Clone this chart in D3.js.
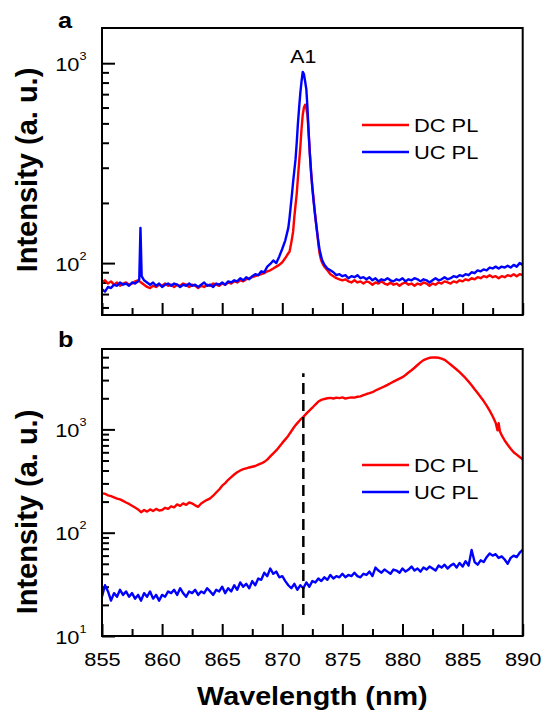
<!DOCTYPE html>
<html>
<head>
<meta charset="utf-8">
<script src="https://cdn.jsdelivr.net/npm/d3@7"></script>
<style>
    body { margin: 0; background: #fff; }
    svg { display: block; font-family: Arial, "Liberation Sans", sans-serif; }
    .frame { fill: none; stroke: #000; stroke-width: 2; }
    .axis line { stroke: #000; stroke-width: 2; }
    .axis text { fill: #000; font-size: 19px; }
    .trace { fill: none; stroke-width: 2.4; stroke-linejoin: round; }
    .title { font-weight: bold; }
</style>
</head>
<body>
<div class="mainview"></div>
<script>

// data ////////////////////////////////////

const wlTicks = [855, 860, 865, 870, 875, 880, 885, 890];
const wlMinorTicks = [857.5, 862.5, 867.5, 872.5, 877.5, 882.5, 887.5];

const topYTicks = [100, 1000];
const topYMinor = [60, 70, 80, 90, 200, 300, 400, 500, 600, 700, 800, 900];
const bottomYTicks = [10, 100, 1000];
const bottomYMinor = [20, 30, 40, 50, 60, 70, 80, 90, 200, 300, 400, 500, 600, 700, 800, 900, 2000, 3000, 4000, 5000];

const legendNames = ["DC PL", "UC PL"];

// panel a, down-conversion PL  [wavelength nm, intensity]
const topDC = [
    [855, 80], [855.25, 82], [855.5, 79], [855.75, 81], [856, 78], [856.25, 80], [856.5, 77], [856.75, 79],
    [857, 80], [857.25, 78], [857.5, 79], [857.75, 81], [858, 82], [858.25, 80], [858.5, 78], [858.75, 76],
    [859, 75], [859.25, 77], [859.5, 76], [859.75, 78], [860, 77], [860.25, 79], [860.5, 77], [860.75, 78],
    [861, 76], [861.25, 78], [861.5, 77], [861.75, 79], [862, 78], [862.25, 76], [862.5, 78], [862.75, 77],
    [863, 75], [863.25, 77], [863.5, 76], [863.75, 78], [864, 77], [864.25, 79], [864.5, 78], [864.75, 77],
    [865, 79], [865.25, 78], [865.5, 80], [865.75, 79], [866, 81], [866.25, 80], [866.5, 82], [866.75, 81],
    [867, 83], [867.25, 84], [867.5, 85], [867.75, 86], [868, 87], [868.25, 88], [868.5, 89], [868.75, 91],
    [869, 92], [869.25, 94], [869.5, 96], [869.75, 98], [870, 101], [870.25, 106], [870.5, 112], [870.6, 114],
    [870.7, 122], [870.8, 132], [870.9, 144], [871, 170], [871.1, 195], [871.2, 222], [871.3, 268], [871.4, 320],
    [871.5, 380], [871.6, 470], [871.7, 552], [871.8, 600], [871.9, 620], [872, 595], [872.1, 545], [872.2, 440],
    [872.3, 350], [872.4, 285], [872.5, 240], [872.6, 210], [872.7, 182], [872.8, 160], [872.9, 143], [873, 125],
    [873.1, 112], [873.2, 105], [873.3, 101], [873.4, 98], [873.5, 96], [873.75, 92], [874, 88], [874.25, 86],
    [874.5, 84], [874.75, 83], [875, 82], [875.25, 83], [875.5, 81], [875.75, 80], [876, 82], [876.25, 80],
    [876.5, 81], [876.75, 79], [877, 81], [877.25, 80], [877.5, 78], [877.75, 80], [878, 79], [878.25, 81],
    [878.5, 79], [878.75, 78], [879, 80], [879.25, 78], [879.5, 79], [879.75, 77], [880, 79], [880.25, 80],
    [880.5, 78], [880.75, 79], [881, 77], [881.25, 79], [881.5, 78], [881.75, 80], [882, 79], [882.25, 77],
    [882.5, 79], [882.75, 78], [883, 80], [883.25, 79], [883.5, 81], [883.75, 80], [884, 79], [884.25, 81],
    [884.5, 80], [884.75, 82], [885, 81], [885.25, 83], [885.5, 82], [885.75, 84], [886, 83], [886.25, 85],
    [886.5, 84], [886.75, 86], [887, 85], [887.25, 87], [887.5, 85], [887.75, 86], [888, 84], [888.25, 86],
    [888.5, 85], [888.75, 87], [889, 86], [889.25, 88], [889.5, 86], [889.75, 88], [890, 87]
];

// panel a, up-conversion PL
const topUC = [
    [855, 74], [855.25, 72], [855.5, 76], [855.75, 75], [856, 78], [856.25, 77], [856.5, 80], [856.75, 78],
    [857, 79], [857.25, 77], [857.5, 80], [857.75, 79], [858, 81], [858.1, 83], [858.2, 150], [858.3, 86],
    [858.5, 82], [858.75, 80], [859, 78], [859.25, 80], [859.5, 77], [859.75, 79], [860, 76], [860.25, 78],
    [860.5, 79], [860.75, 77], [861, 79], [861.25, 78], [861.5, 76], [861.75, 78], [862, 77], [862.25, 79],
    [862.5, 77], [862.75, 78], [863, 76], [863.25, 78], [863.5, 80], [863.75, 77], [864, 78], [864.25, 76],
    [864.5, 79], [864.75, 78], [865, 80], [865.25, 78], [865.5, 81], [865.75, 80], [866, 82], [866.25, 81],
    [866.5, 84], [866.75, 82], [867, 85], [867.25, 83], [867.5, 86], [867.75, 88], [868, 87], [868.25, 91],
    [868.5, 90], [868.75, 96], [869, 99], [869.25, 103], [869.5, 100], [869.75, 108], [870, 118], [870.25, 130],
    [870.5, 150], [870.6, 168], [870.7, 192], [870.8, 220], [870.9, 255], [871, 290], [871.1, 330], [871.2, 400],
    [871.3, 500], [871.4, 600], [871.5, 710], [871.6, 810], [871.7, 905], [871.8, 880], [871.9, 810], [872, 740],
    [872.1, 590], [872.2, 440], [872.3, 345], [872.4, 280], [872.5, 238], [872.6, 205], [872.7, 180], [872.8, 160],
    [872.9, 142], [873, 128], [873.1, 117], [873.2, 110], [873.3, 104], [873.4, 101], [873.5, 98], [873.75, 94],
    [874, 92], [874.25, 90], [874.5, 87], [874.75, 88], [875, 86], [875.25, 87], [875.5, 84], [875.75, 86],
    [876, 85], [876.25, 87], [876.5, 84], [876.75, 85], [877, 83], [877.25, 85], [877.5, 82], [877.75, 84],
    [878, 81], [878.25, 83], [878.5, 82], [878.75, 84], [879, 82], [879.25, 81], [879.5, 83], [879.75, 82],
    [880, 84], [880.25, 81], [880.5, 83], [880.75, 82], [881, 84], [881.25, 83], [881.5, 81], [881.75, 83],
    [882, 82], [882.25, 80], [882.5, 82], [882.75, 84], [883, 82], [883.25, 83], [883.5, 85], [883.75, 83],
    [884, 84], [884.25, 86], [884.5, 85], [884.75, 87], [885, 86], [885.25, 88], [885.5, 87], [885.75, 90],
    [886, 89], [886.25, 92], [886.5, 91], [886.75, 93], [887, 92], [887.25, 95], [887.5, 94], [887.75, 96],
    [888, 94], [888.25, 96], [888.5, 95], [888.75, 97], [889, 95], [889.25, 98], [889.5, 96], [889.75, 100],
    [890, 98]
];

// panel b, down-conversion PL
const bottomDC = [
    [855, 240], [855.25, 238], [855.5, 230], [855.75, 226], [856, 220], [856.25, 214], [856.5, 210], [856.75, 203],
    [857, 196], [857.25, 190], [857.5, 182], [857.75, 175], [858, 168], [858.25, 158], [858.5, 166], [858.75, 160],
    [859, 168], [859.25, 162], [859.5, 170], [859.75, 164], [860, 166], [860.25, 174], [860.5, 170], [860.75, 180],
    [861, 176], [861.25, 188], [861.5, 182], [861.75, 192], [862, 186], [862.25, 196], [862.5, 192], [862.75, 184],
    [863, 178], [863.25, 192], [863.5, 200], [863.75, 208], [864, 215], [864.25, 228], [864.5, 245], [864.75, 262],
    [865, 285], [865.25, 302], [865.5, 325], [865.75, 345], [866, 366], [866.25, 385], [866.5, 400], [866.75, 412],
    [867, 420], [867.25, 428], [867.5, 435], [867.75, 442], [868, 455], [868.25, 468], [868.5, 485], [868.75, 510],
    [869, 548], [869.25, 585], [869.5, 625], [869.75, 680], [870, 740], [870.25, 800], [870.5, 870], [870.75, 960],
    [871, 1060], [871.25, 1150], [871.5, 1240], [871.75, 1320], [872, 1420], [872.25, 1520], [872.5, 1620], [872.75, 1740],
    [873, 1860], [873.25, 1930], [873.5, 1970], [873.75, 2000], [874, 2020], [874.25, 1990], [874.5, 2030], [874.75, 2010],
    [875, 2040], [875.25, 1990], [875.5, 2020], [875.75, 2040], [876, 2030], [876.25, 2070], [876.5, 2090], [876.75, 2150],
    [877, 2200], [877.25, 2240], [877.5, 2290], [877.75, 2380], [878, 2450], [878.25, 2530], [878.5, 2610], [878.75, 2700],
    [879, 2800], [879.25, 2900], [879.5, 3000], [879.75, 3100], [880, 3200], [880.25, 3360], [880.5, 3550], [880.75, 3740],
    [881, 3950], [881.25, 4200], [881.5, 4450], [881.75, 4680], [882, 4820], [882.25, 4930], [882.5, 4960], [882.75, 4970],
    [883, 4940], [883.25, 4850], [883.5, 4720], [883.75, 4480], [884, 4250], [884.25, 4020], [884.5, 3800], [884.75, 3580],
    [885, 3350], [885.25, 3130], [885.5, 2900], [885.75, 2680], [886, 2450], [886.25, 2250], [886.5, 2060], [886.75, 1880],
    [887, 1700], [887.25, 1520], [887.5, 1340], [887.75, 1160], [887.9, 980], [888, 1150], [888.1, 960], [888.25, 880],
    [888.5, 780], [888.75, 710], [889, 650], [889.25, 600], [889.5, 570], [889.75, 540], [890, 513]
];

// panel b, up-conversion PL
const bottomUC = [
    [855, 24], [855.25, 31], [855.5, 27], [855.75, 22], [856, 26], [856.25, 24], [856.5, 28], [856.75, 25],
    [857, 27], [857.25, 24], [857.5, 26], [857.75, 23], [858, 25], [858.25, 22], [858.5, 26], [858.75, 24],
    [859, 27], [859.25, 23], [859.5, 25], [859.75, 22], [860, 25], [860.25, 24], [860.5, 27], [860.75, 26],
    [861, 28], [861.25, 25], [861.5, 29], [861.75, 26], [862, 24], [862.25, 27], [862.5, 26], [862.75, 28],
    [863, 25], [863.25, 27], [863.5, 26], [863.75, 29], [864, 27], [864.25, 25], [864.5, 28], [864.75, 27],
    [865, 30], [865.25, 26], [865.5, 29], [865.75, 27], [866, 31], [866.25, 28], [866.5, 33], [866.75, 30],
    [867, 32], [867.25, 29], [867.5, 34], [867.75, 31], [868, 36], [868.25, 35], [868.5, 41], [868.75, 38],
    [869, 45], [869.25, 40], [869.5, 42], [869.75, 37], [870, 38], [870.25, 34], [870.5, 31], [870.75, 29],
    [871, 32], [871.25, 28], [871.5, 31], [871.75, 29], [872, 33], [872.25, 30], [872.5, 34], [872.75, 33],
    [873, 36], [873.25, 34], [873.5, 37], [873.75, 35], [874, 39], [874.25, 36], [874.5, 38], [874.75, 37],
    [875, 40], [875.25, 37], [875.5, 39], [875.75, 38], [876, 41], [876.25, 38], [876.5, 37], [876.75, 40],
    [877, 39], [877.25, 42], [877.5, 38], [877.75, 46], [878, 43], [878.25, 41], [878.5, 44], [878.75, 42],
    [879, 40], [879.25, 44], [879.5, 43], [879.75, 41], [880, 45], [880.25, 42], [880.5, 44], [880.75, 47],
    [881, 43], [881.25, 45], [881.5, 42], [881.75, 46], [882, 44], [882.25, 47], [882.5, 45], [882.75, 43],
    [883, 48], [883.25, 46], [883.5, 49], [883.75, 45], [884, 48], [884.25, 50], [884.5, 46], [884.75, 51],
    [885, 47], [885.25, 53], [885.5, 48], [885.75, 68], [886, 52], [886.25, 49], [886.5, 54], [886.75, 52],
    [887, 58], [887.25, 63], [887.5, 60], [887.75, 62], [888, 57], [888.25, 59], [888.5, 55], [888.75, 50],
    [889, 57], [889.25, 60], [889.5, 58], [889.75, 64], [890, 68]
];

// A1 exciton position (label in panel a, dashed line in panel b)
const a1Wl = 871.75;
const a1LabelValue = 1000;
const markerRange = [16, 3500];

// layout ////////////////////////////////////

const dim = { width: 542, height: 714 };
const plotX = [102, 522.7];
const stretch = 1.15;   // the source figure is drawn a bit wider than tall
const colors = { dc: "#ff0000", uc: "#0000ff" };

const x = d3.scaleLinear().domain([855, 890]).range(plotX);

const svg = d3.select(".mainview").append("svg")
    .attr("width", dim.width)
    .attr("height", dim.height);

svg.append("rect")
    .attr("width", dim.width).attr("height", dim.height)
    .style("fill", "#fff");

const panels = [
    { top: 28, bottom: 315, domain: [55, 1500], major: topYTicks, minor: topYMinor,
      dc: topDC, uc: topUC, label: "a", labelY: 28, legendY: 125, titleY: 170, showX: false },
    { top: 349, bottom: 636, domain: [10, 6000], major: bottomYTicks, minor: bottomYMinor,
      dc: bottomDC, uc: bottomUC, label: "b", labelY: 347, legendY: 465, titleY: 512, showX: true }
];

panels.forEach(p => drawPanel(svg, p));

// x title
svg.append("text")
    .attr("class", "title")
    .attr("transform", `translate(${ (plotX[0] + plotX[1]) / 2 }, 705) scale(${ stretch }, 1)`)
    .attr("text-anchor", "middle")
    .style("font-size", "25px")
    .text("Wavelength (nm)");

function drawPanel(svg, p) {

    const y = d3.scaleLog()
        .domain(p.domain)
        .range([p.bottom, p.top]);

    const g = svg.append("g");

    // x axis, ticks pointing inwards
    const xAxis = d3.axisBottom(x)
        .tickValues(wlTicks)
        .tickSize(-12)
        .tickPadding(17)
        .tickFormat(p.showX ? d3.format("d") : "");

    g.append("g")
        .attr("class", "axis x")
        .attr("transform", `translate(0, ${ p.bottom })`)
        .call(xAxis)
        .call(a => a.select(".domain").remove())
        .call(a => a.selectAll("text").attr("transform", `scale(${ stretch }, 1)`));

    g.append("g")
        .attr("class", "axis x minor")
        .attr("transform", `translate(0, ${ p.bottom })`)
        .call(d3.axisBottom(x).tickValues(wlMinorTicks).tickSize(-7).tickFormat(""))
        .call(a => a.select(".domain").remove());

    // y axis (log), labels as 10^n
    const yAxis = d3.axisLeft(y)
        .tickValues(p.major)
        .tickSize(-13)
        .tickPadding(0);

    g.append("g")
        .attr("class", "axis y")
        .attr("transform", `translate(${ plotX[0] }, 0)`)
        .call(yAxis)
        .call(a => a.select(".domain").remove())
        .call(a => a.selectAll("text").each(function(d) {
            const t = d3.select(this)
                .text(null)
                .attr("x", -15.5 / stretch)
                .attr("dy", null)
                .attr("y", 7)
                .attr("transform", `scale(${ stretch }, 1)`);
            t.append("tspan").text("10");
            t.append("tspan")
                .attr("dy", -11)
                .style("font-size", "11px")
                .text(Math.round(Math.log10(d)));
        }));

    g.append("g")
        .attr("class", "axis y minor")
        .attr("transform", `translate(${ plotX[0] }, 0)`)
        .call(d3.axisLeft(y).tickValues(p.minor).tickSize(-7).tickFormat(""))
        .call(a => a.select(".domain").remove());

    // traces
    const line = d3.line()
        .x(d => x(d[0]))
        .y(d => y(d[1]));

    g.append("path")
        .attr("class", "trace")
        .style("stroke", colors.dc)
        .attr("d", line(p.dc));

    g.append("path")
        .attr("class", "trace")
        .style("stroke", colors.uc)
        .attr("d", line(p.uc));

    // frame
    g.append("rect")
        .attr("class", "frame")
        .attr("x", plotX[0]).attr("y", p.top)
        .attr("width", plotX[1] - plotX[0])
        .attr("height", p.bottom - p.top);

    // annotations
    if (p.showX) {
        g.append("line")
            .attr("x1", x(a1Wl)).attr("x2", x(a1Wl))
            .attr("y1", y(markerRange[0])).attr("y2", y(markerRange[1]))
            .style("stroke", "#000")
            .style("stroke-width", 2.5)
            .style("stroke-dasharray", "11,6");
    } else {
        g.append("text")
            .attr("transform", `translate(${ x(a1Wl) }, ${ y(a1LabelValue) }) scale(${ stretch }, 1)`)
            .attr("text-anchor", "middle")
            .style("font-size", "18.5px")
            .text("A1");
    }

    // legend
    const legend = g.append("g")
        .selectAll("g")
        .data(legendNames)
        .join("g")
        .attr("transform", (d, i) => `translate(362, ${ p.legendY + i * 27 })`);

    legend.append("line")
        .attr("x1", 0).attr("x2", 47)
        .style("stroke", (d, i) => i === 0 ? colors.dc : colors.uc)
        .style("stroke-width", 2.5);

    legend.append("text")
        .attr("transform", `translate(52, 7) scale(${ stretch }, 1)`)
        .style("font-size", "19px")
        .text(d => d);

    // panel letter
    g.append("text")
        .attr("class", "title")
        .attr("transform", `translate(58, ${ p.labelY }) scale(${ stretch }, 1)`)
        .style("font-size", "22px")
        .text(p.label);

    // y title
    g.append("text")
        .attr("class", "title")
        .attr("transform", `translate(37, ${ p.titleY }) rotate(-90)`)
        .attr("text-anchor", "middle")
        .style("font-size", "29px")
        .text("Intensity (a. u.)");
}

</script>
</body>
</html>
